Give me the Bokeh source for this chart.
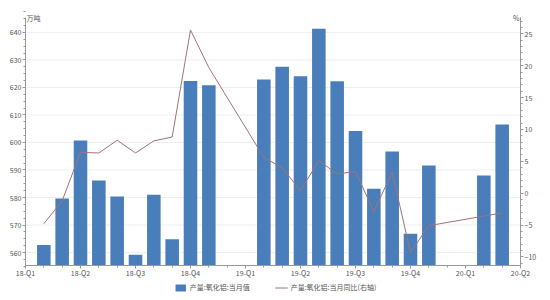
from bokeh.plotting import figure
from bokeh.models import (Range1d, LinearAxis, FixedTicker, Legend, LegendItem,
                          Label, ColumnDataSource)
from bokeh.embed import file_html
from bokeh.resources import INLINE

# ---- data ----
months = ["2018-01", "2018-02", "2018-03", "2018-04", "2018-05", "2018-06",
          "2018-07", "2018-08", "2018-09", "2018-10",
          "2019-01", "2019-02", "2019-03", "2019-04", "2019-05", "2019-06",
          "2019-07", "2019-08", "2019-09", "2019-10",
          "2020-01", "2020-02"]
output_value = [562.7, 579.6, 600.7, 586.2, 580.4, 559.2,
                581.0, 564.8, 622.3, 620.8,
                622.9, 627.5, 624.1, 641.3, 622.2, 604.2,
                583.2, 596.7, 566.8, 591.6,
                588.0, 606.5]
yoy_pct = [-4.8, -1.2, 6.4, 6.3, 8.3, 6.3,
           8.2, 8.8, 25.6, 19.7,
           5.6, 4.0, 0.4, 5.1, 3.0, 3.4,
           -2.9, 3.3, -9.3, -5.1,
           -3.6, -3.1]
quarter_labels = ["18-Q1", "18-Q2", "18-Q3", "18-Q4", "19-Q1", "19-Q2",
                  "19-Q3", "19-Q4", "20-Q1", "20-Q2"]
left_ticks = [560, 570, 580, 590, 600, 610, 620, 630, 640]
right_ticks = [-10, -5, 0, 5, 10, 15, 20, 25]
bar_name = "产量:氧化铝:当月值"
line_name = "产量:氧化铝:当月同比(右轴)"

# position: month end, measured in months from 2018-01-01
def month_end_pos(s):
    y, m = map(int, s.split("-"))
    return (y - 2018) * 12 + m

xs = [month_end_pos(s) for s in months]
src = ColumnDataSource(dict(x=xs, v=output_value, r=yoy_pct))

FONT = "Noto Sans CJK SC"
BLUE = "#4a7ebb"
LINE = "#9e7479"
AXC = "#999999"
TXT = "#555555"

X_LO, X_HI = 0, 27                    # span covered by the x axis
LEFT_LO, LEFT_HI = 555.3, 645.4       # span covered by the left axis
RIGHT_LO, RIGHT_HI = -11.35, 27.55    # span covered by the right axis

# the frame fills the whole canvas; axes sit at fixed locations inside it
p = figure(width=550, height=300, output_backend="svg", toolbar_location=None,
           x_range=Range1d(-1.3636, 28.636), y_range=Range1d(542.58, 651.58),
           min_border_left=0, min_border_right=0, min_border_top=0,
           min_border_bottom=0)
p.outline_line_color = None
p.background_fill_color = "white"
p.extra_y_ranges = {"yoy": Range1d(-16.84, 30.22)}

# horizontal grid limited to the axes span
p.segment(x0=X_LO, x1=X_HI, y0=left_ticks, y1=left_ticks,
          line_color="#eeeeee", line_width=1, level="underlay")

bars = p.vbar(x="x", top="v", bottom=LEFT_LO, width=0.74, source=src,
              fill_color=BLUE, line_color=None)
line = p.line(x="x", y="r", source=src, y_range_name="yoy",
              line_color=LINE, line_width=1)

# axes
p.xaxis.ticker = FixedTicker(ticks=[3 * i for i in range(len(quarter_labels))],
                             minor_ticks=list(range(0, 28)))
p.xaxis.major_label_overrides = {3 * i: lab for i, lab in enumerate(quarter_labels)}
p.xaxis.fixed_location = LEFT_LO
p.xaxis.bounds = (X_LO, X_HI)

p.yaxis.ticker = FixedTicker(ticks=left_ticks,
                             minor_ticks=[555 + 2.5 * i for i in range(38)])
p.yaxis.bounds = (LEFT_LO, LEFT_HI)
p.yaxis.fixed_location = X_LO

ry = LinearAxis(y_range_name="yoy", bounds=(RIGHT_LO, RIGHT_HI), fixed_location=X_HI,
                ticker=FixedTicker(ticks=right_ticks,
                                   minor_ticks=list(range(-11, 28))))
p.add_layout(ry, "right")

for ax in [p.xaxis[0], p.yaxis[0], ry]:
    ax.axis_line_color = AXC
    ax.major_tick_line_color = AXC
    ax.minor_tick_line_color = AXC
    ax.major_tick_in = 0
    ax.major_tick_out = 3
    ax.minor_tick_in = 0
    ax.minor_tick_out = 2
    ax.major_label_text_font = FONT
    ax.major_label_text_font_size = "7px"
    ax.major_label_text_color = TXT
    ax.major_label_standoff = 1
p.xaxis.major_label_standoff = 0

p.xgrid.grid_line_color = None
p.ygrid.grid_line_color = None

# unit labels
p.add_layout(Label(x=X_LO, y=LEFT_HI, text="万吨", text_font=FONT, text_font_size="7px",
                   text_color=TXT, text_baseline="middle", text_align="left",
                   x_offset=1))
p.add_layout(Label(x=X_HI, y=RIGHT_HI, y_range_name="yoy", text="%", text_font=FONT,
                   text_font_size="7px", text_color=TXT, text_baseline="middle",
                   text_align="right", x_offset=-1))

legend = Legend(items=[LegendItem(label=bar_name, renderers=[bars]),
                       LegendItem(label=line_name, renderers=[line])],
                orientation="horizontal", location="bottom_center",
                label_text_font=FONT, label_text_font_size="7px",
                label_text_color=TXT, glyph_width=13, glyph_height=9,
                label_height=9, spacing=25, padding=1, margin=8,
                border_line_color=None, background_fill_alpha=0, label_standoff=3)
p.add_layout(legend)

open("out.html", "w").write(file_html(p, INLINE))
